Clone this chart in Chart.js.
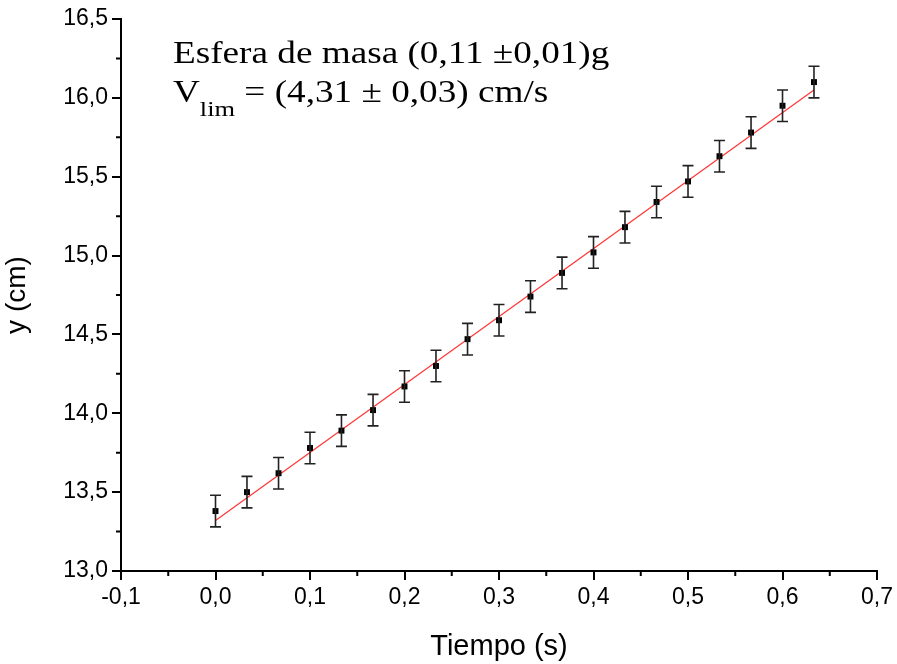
<!DOCTYPE html>
<html>
<head>
<meta charset="utf-8">
<script src="https://cdn.jsdelivr.net/npm/chart.js@4.4.0/dist/chart.umd.min.js"></script>
<style>
  html, body { margin: 0; padding: 0; background: #fff; }
  #wrap { width: 897px; height: 664px; }
</style>
</head>
<body>
<div id="wrap"><canvas id="chart" width="897" height="664"></canvas></div>
<script>
// measured data: time (s) vs position (cm)
const tiempo = [0, 0.0333, 0.0667, 0.1, 0.1333, 0.1667, 0.2, 0.2333, 0.2667, 0.3,
                0.3333, 0.3667, 0.4, 0.4333, 0.4667, 0.5, 0.5333, 0.5667, 0.6, 0.6333];
const posicion = [13.38, 13.50, 13.62, 13.78, 13.89, 14.02, 14.17, 14.30, 14.47, 14.59,
                  14.74, 14.89, 15.02, 15.18, 15.34, 15.47, 15.63, 15.78, 15.95, 16.10];
const errorY = [0.1, 0.1, 0.1, 0.1, 0.1, 0.1, 0.1, 0.1, 0.1, 0.1,
                0.1, 0.1, 0.1, 0.1, 0.1, 0.1, 0.1, 0.1, 0.1, 0.1];

// linear fit
const ajusteX = [0, 0.6333];
const ajusteY = [13.32, 16.05];

const xTicks = [-0.1, 0, 0.1, 0.2, 0.3, 0.4, 0.5, 0.6, 0.7];
const yTicks = [13.0, 13.5, 14.0, 14.5, 15.0, 15.5, 16.0, 16.5];

const coma = v => v.toFixed(1).replace('.', ',');

// error bars + minor ticks + text box
const extras = {
  id: 'extras',
  afterDatasetsDraw(chart) {
    const ctx = chart.ctx;
    const xs = chart.scales.x, ys = chart.scales.y;
    ctx.save();
    ctx.strokeStyle = '#222';
    ctx.lineWidth = 1.6;
    for (let i = 0; i < tiempo.length; i++) {
      const px = xs.getPixelForValue(tiempo[i]);
      const top = ys.getPixelForValue(posicion[i] + errorY[i]);
      const bot = ys.getPixelForValue(posicion[i] - errorY[i]);
      ctx.beginPath();
      ctx.moveTo(px, top); ctx.lineTo(px, bot);
      ctx.moveTo(px - 5.5, top); ctx.lineTo(px + 5.5, top);
      ctx.moveTo(px - 5.5, bot); ctx.lineTo(px + 5.5, bot);
      ctx.stroke();
    }
    ctx.restore();
  },
  afterDraw(chart) {
    const ctx = chart.ctx;
    const xs = chart.scales.x, ys = chart.scales.y;
    const area = chart.chartArea;
    ctx.save();
    ctx.strokeStyle = '#000';
    ctx.lineWidth = 2;
    ctx.beginPath();
    for (let i = 0; i < xTicks.length - 1; i++) {
      const px = xs.getPixelForValue((xTicks[i] + xTicks[i + 1]) / 2);
      ctx.moveTo(px, area.bottom); ctx.lineTo(px, area.bottom + 5);
    }
    for (let i = 0; i < yTicks.length - 1; i++) {
      const py = ys.getPixelForValue((yTicks[i] + yTicks[i + 1]) / 2);
      ctx.moveTo(area.left, py); ctx.lineTo(area.left - 5, py);
    }
    ctx.stroke();
    ctx.restore();

    // annotation, slightly stretched horizontally like the original
    ctx.save();
    ctx.translate(173, 0);
    ctx.scale(1.2, 1);
    ctx.fillStyle = '#000';
    ctx.textBaseline = 'alphabetic';
    const big = '31px "Liberation Serif", "Times New Roman", serif';
    const small = '22px "Liberation Serif", "Times New Roman", serif';
    ctx.font = big;
    ctx.fillText('Esfera de masa (0,11 \u00b10,01)g', 0, 63);
    ctx.fillText('V', 0, 102);
    let w = ctx.measureText('V').width;
    ctx.font = small;
    ctx.fillText('lim', w, 116);
    w += ctx.measureText('lim').width;
    ctx.font = big;
    ctx.fillText(' = (4,31 \u00b1 0,03) cm/s', w, 102);
    ctx.restore();
  }
};

new Chart(document.getElementById('chart'), {
  type: 'scatter',
  data: {
    datasets: [
      {
        label: 'ajuste',
        type: 'line',
        data: ajusteX.map((x, i) => ({ x: x, y: ajusteY[i] })),
        borderColor: 'rgba(255, 30, 30, 0.9)',
        borderWidth: 1.2,
        pointRadius: 0,
        fill: false,
        order: 2
      },
      {
        label: 'y',
        data: tiempo.map((t, i) => ({ x: t, y: posicion[i] })),
        pointStyle: 'rect',
        pointRadius: 4.2,
        backgroundColor: '#000',
        borderColor: '#000',
        borderWidth: 0,
        order: 1
      }
    ]
  },
  options: {
    responsive: false,
    animation: false,
    events: [],
    layout: { autoPadding: false, padding: { top: 19, right: 17, left: 0, bottom: 0 } },
    plugins: { legend: { display: false }, tooltip: { enabled: false } },
    scales: {
      x: {
        type: 'linear',
        min: -0.1, max: 0.7,
        afterBuildTicks: s => { s.ticks = xTicks.map(v => ({ value: v })); },
        afterFit: s => { s.height = 93; },
        grid: { drawOnChartArea: false, drawTicks: true, tickLength: 9, color: '#000', lineWidth: 2 },
        border: { color: '#000', width: 2 },
        ticks: {
          color: '#000', padding: 4, maxRotation: 0,
          font: { family: '"Liberation Sans", Arial, sans-serif', size: 23 },
          callback: v => coma(v)
        },
        title: {
          display: true, text: 'Tiempo (s)', color: '#000',
          font: { family: '"Liberation Sans", Arial, sans-serif', size: 29 },
          padding: { top: 6, bottom: 0 }
        }
      },
      y: {
        type: 'linear',
        min: 13, max: 16.5,
        afterBuildTicks: s => { s.ticks = yTicks.map(v => ({ value: v })); },
        afterFit: s => { s.width = 121; },
        grid: { drawOnChartArea: false, drawTicks: true, tickLength: 9, color: '#000', lineWidth: 2 },
        border: { color: '#000', width: 2 },
        ticks: {
          color: '#000', padding: 4,
          font: { family: '"Liberation Sans", Arial, sans-serif', size: 23 },
          callback: v => coma(v)
        },
        title: {
          display: true, text: 'y (cm)', color: '#000',
          font: { family: '"Liberation Sans", Arial, sans-serif', size: 28 },
          padding: { top: 0, bottom: 0 }
        }
      }
    }
  },
  plugins: [extras]
});
</script>
</body>
</html>
